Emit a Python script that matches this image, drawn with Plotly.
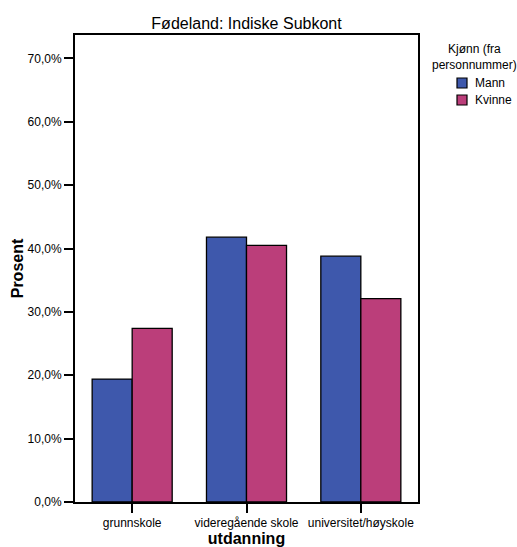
import plotly.graph_objects as go

categories = ["grunnskole", "videregående skole", "universitet/høyskole"]
mann = [19.4, 41.8, 38.8]
kvinne = [27.4, 40.5, 32.1]
series_names = ["Mann", "Kvinne"]
colors = ["#3e58ac", "#bb3e7a"]

font = "Liberation Sans, Arial, sans-serif"

# plot-area geometry in pixels
W, H = 517, 547
L, R, T, B = 75, 99, 35, 45
PW, PH = W - L - R, H - T - B


def px_x(x):
    return (x - L) / PW


def px_y(y):
    return 1 - (y - T) / PH


fig = go.Figure()
for name, vals, col in zip(series_names, [mann, kvinne], colors):
    fig.add_trace(go.Bar(
        x=categories, y=vals, name=name, showlegend=False,
        marker=dict(color=col, line=dict(color="black", width=1.3)),
    ))

shapes = []
annotations = [dict(text="Kjønn (fra<br>personnummer)", xref="paper", yref="paper",
                    x=px_x(474.5), y=px_y(57), xanchor="center", yanchor="middle",
                    showarrow=False, align="center",
                    font=dict(size=12, family=font, color="black"))]
for i, (name, col) in enumerate(zip(series_names, colors)):
    cy = 83 + 17 * i
    shapes.append(dict(type="rect", xref="paper", yref="paper",
                       x0=px_x(457), x1=px_x(467), y0=px_y(cy + 5), y1=px_y(cy - 5),
                       fillcolor=col, line=dict(color="black", width=1.2)))
    annotations.append(dict(text=name, xref="paper", yref="paper", x=px_x(473), y=px_y(cy),
                            xanchor="left", yanchor="middle", showarrow=False,
                            font=dict(size=12, family=font, color="black")))

fig.update_layout(
    width=W, height=H,
    margin=dict(l=L, r=R, t=T, b=B, autoexpand=False),
    paper_bgcolor="white", plot_bgcolor="white",
    barmode="group", bargap=0.3, bargroupgap=0,
    separators=",.",
    font=dict(family=font, size=12, color="black"),
    title=dict(text="Fødeland: Indiske Subkont", x=(L + (W - R)) / 2 / W, xanchor="center",
               y=1 - 23 / H, yanchor="middle", font=dict(size=16, color="black")),
    showlegend=False,
    shapes=shapes,
    annotations=annotations,
)
fig.update_xaxes(
    range=[-0.5, 2.5], showline=True, linecolor="black", linewidth=2, mirror=True,
    ticks="outside", ticklen=9, tickwidth=2, tickcolor="black",
    tickfont=dict(size=12),
    title=dict(text="<b>utdanning</b>", font=dict(size=16), standoff=4),
)
fig.update_yaxes(
    range=[0, 73.7], dtick=10, tick0=0, showgrid=False, zeroline=False,
    showline=True, linecolor="black", linewidth=2, mirror=True,
    ticks="outside", ticklen=9, tickwidth=2, tickcolor="black",
    tickformat=".1f", ticksuffix="%", tickfont=dict(size=12),
    title=dict(text="<b>Prosent</b>", font=dict(size=16), standoff=0),
)

fig.write_html("out.html", config={"displayModeBar": False},
               post_script="document.body.style.margin='0';")
